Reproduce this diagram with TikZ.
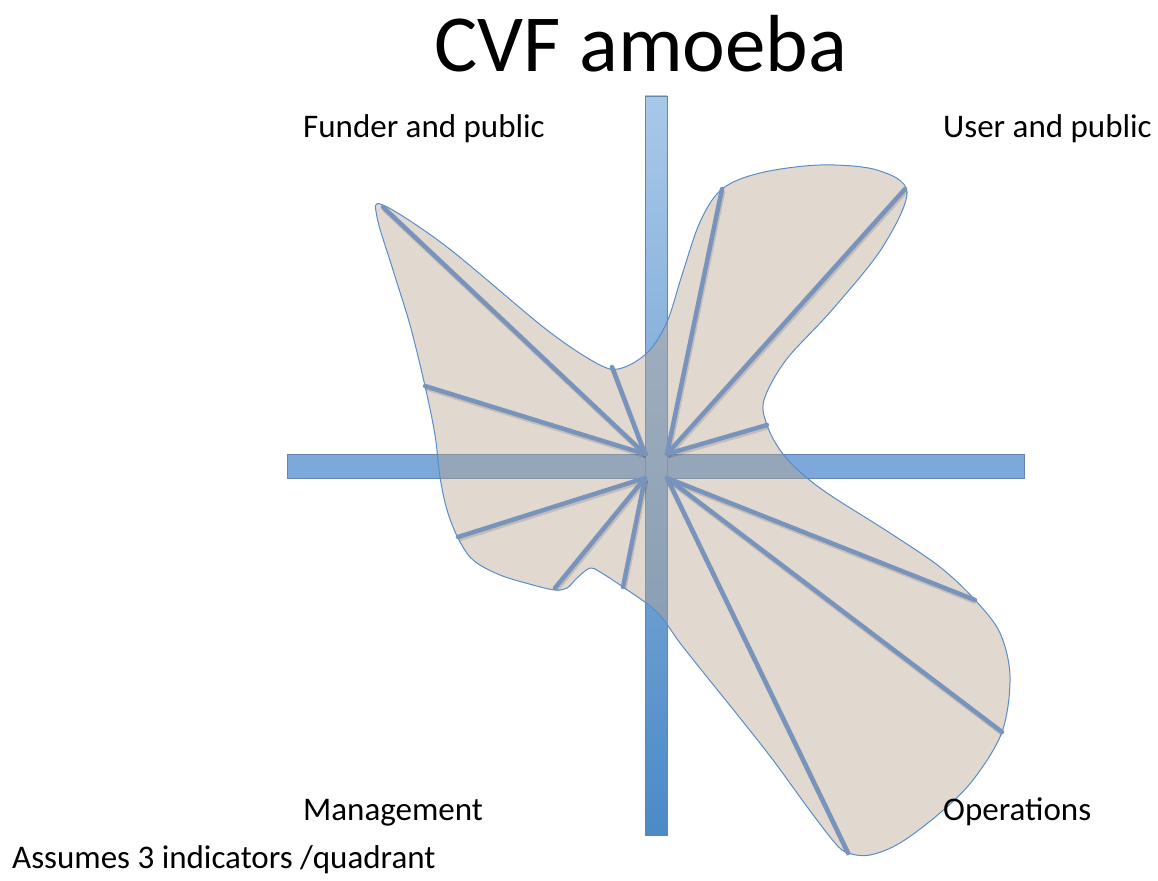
\documentclass[tikz,border=0pt]{standalone}
\usepackage{fontspec}
\setmainfont{Carlito}
\usetikzlibrary{positioning}

\definecolor{barblue}{RGB}{124,168,218}
\definecolor{bartop}{RGB}{168,200,233}
\definecolor{barbot}{RGB}{76,138,198}
\definecolor{blobfill}{RGB}{186,165,146}
\definecolor{blobline}{RGB}{88,140,202}
\definecolor{spokeblue}{RGB}{120,148,188}

\begin{document}
\begin{tikzpicture}[x=1pt,y=-1pt,
        bar/.style={draw=barblue!80!black,line width=0.6pt},
        blob/.style={fill=blobfill,fill opacity=0.43,draw=blobline,line width=1pt},
        spoke/.style={draw=spokeblue,line width=4.5pt,line cap=round,
            preaction={draw=black,opacity=0.12,line width=5pt,transform canvas={shift={(1,2)}}}},
        lbl/.style={anchor=base west,inner sep=0pt,font=\fontsize{33}{40}\selectfont}]
    \useasboundingbox (0,0) rectangle (1158,880);

    % axes
    \draw[bar,fill=barblue] (287,454) rectangle (1024,478);
    \draw[bar,top color=bartop,bottom color=barbot] (645,96) rectangle (667,835);

    % the amoeba
    \draw[blob] plot[smooth cycle,tension=0.55] coordinates {
        (383,205) (447,247) (547,330) (600,365) (622,368) (648,352) (667,322)
        (682,275) (700,222) (722,189) (760,173) (820,165) (877,170) (907,192)
        (882,248) (832,310) (786,360) (764,400) (767,425) (780,450)
        (800,472) (830,495) (890,533) (940,567) (975,600) (1000,633) (1010,677)
        (1002,732) (973,780) (940,813) (900,843) (870,855) (848,853) (835,843)
        (808,808) (773,760) (740,718) (707,677) (680,643) (657,612) (623,587)
        (600,572) (590,568) (577,578) (567,588) (555,590) (533,585) (500,575)
        (473,560) (458,538) (447,510) (440,477) (435,435) (425,386) (410,325)
        (393,270) (377,217)};

    % hubs at the inner corners of the cross
    \coordinate (ul) at (645,454);
    \coordinate (ur) at (667,454);
    \coordinate (ll) at (645,478);
    \coordinate (lr) at (667,478);

    % indicator tips
    \coordinate (fa) at (383,207);
    \coordinate (fb) at (425,386);
    \coordinate (fc) at (612,367);
    \coordinate (ua) at (722,189);
    \coordinate (ub) at (905,189);
    \coordinate (uc) at (767,425);
    \coordinate (ma) at (458,537);
    \coordinate (mb) at (555,588);
    \coordinate (mc) at (623,587);
    \coordinate (oa) at (975,600);
    \coordinate (ob) at (1002,732);
    \coordinate (oc) at (848,853);

    \foreach \t in {fa,fb,fc} \draw[spoke] (ul) -- (\t);
    \foreach \t in {ua,ub,uc} \draw[spoke] (ur) -- (\t);
    \foreach \t in {ma,mb,mc} \draw[spoke] (ll) -- (\t);
    \foreach \t in {oa,ob,oc} \draw[spoke] (lr) -- (\t);

    % labels
    \node[anchor=base,inner sep=0pt,font=\fontsize{81}{90}\selectfont] (title) at (641,72) {CVF amoeba};
    \node[lbl] (funder) at (303,137) {Funder and public};
    \node[lbl] (user) at (943,137) {User and public};
    \node[lbl] (mgmt) at (303,820) {Management};
    \node[lbl] (ops) at (943,820) {Operations};
    \node[lbl] (note) at (12,868) {Assumes 3 indicators /quadrant};
\end{tikzpicture}
\end{document}
